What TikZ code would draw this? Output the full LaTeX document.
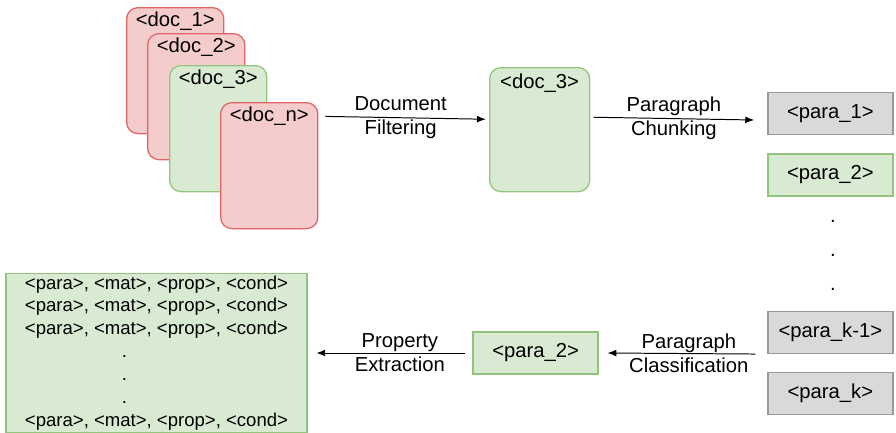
\documentclass[tikz,border=0pt]{standalone}
\usepackage{fontspec}
\setmainfont{Liberation Sans}
\usepackage{tikz}
\usetikzlibrary{arrows.meta}

\definecolor{redfill}{HTML}{F4CCCC}
\definecolor{redline}{HTML}{E06666}
\definecolor{greenfill}{HTML}{D9EAD3}
\definecolor{greenline}{HTML}{93C47D}
\definecolor{grayfill}{HTML}{D9D9D9}
\definecolor{grayline}{HTML}{999999}

\begin{document}
\begin{tikzpicture}[font=\fontsize{14.4}{17}\selectfont,
    doc/.style={draw,line width=0.9pt,rounded corners=8pt,minimum width=2.43cm,minimum height=3.15cm,anchor=north west},
    reddoc/.style={doc,fill=redfill,draw=redline},
    greendoc/.style={doc,fill=greenfill,draw=greenline},
    doclbl/.style={anchor=north,inner sep=3pt},
    para/.style={draw,line width=0.9pt,minimum width=3.125cm,minimum height=1.05cm,inner sep=0pt},
    graypara/.style={para,fill=grayfill,draw=grayline},
    greenpara/.style={para,fill=greenfill,draw=greenline},
    arr/.style={-{Latex[length=2.2mm,width=1.7mm]},line width=0.7pt},
    lbl/.style={align=center,inner sep=0pt}]
    \useasboundingbox (0,0) rectangle (22.4,-10.825);
    % Input documents, stacked
    \node[reddoc]   (doc1) at (3.15,-0.175) {};
    \node[doclbl] (doc1t) at (doc1.north) {<doc\_1>};
    \node[reddoc]   (doc2) at (3.675,-0.825) {};
    \node[doclbl] (doc2t) at (doc2.north) {<doc\_2>};
    \node[greendoc] (doc3) at (4.225,-1.625) {};
    \node[doclbl] (doc3t) at (doc3.north) {<doc\_3>};
    \node[reddoc]   (docn) at (5.5,-2.55) {};
    \node[doclbl] (docnt) at (docn.north) {<doc\_n>};
    % Kept document
    \node[greendoc,minimum width=2.5cm,minimum height=3.1cm] (kept) at (12.225,-1.675) {};
    \node[doclbl,inner sep=5pt] (keptt) at (kept.north) {<doc\_3>};
    % Paragraph column
    \node[graypara]  (par1) at (20.76,-2.84) {<para\_1>};
    \node[greenpara] (par2) at (20.76,-4.375) {<para\_2>};
    \node[align=center,inner sep=0pt,font=\fontsize{14.4}{24.2}\selectfont] (vdots) at (20.825,-6.38) {.\\.\\.};
    \node[graypara]  (park1) at (20.76,-8.31) {<para\_k-1>};
    \node[graypara]  (park) at (20.76,-9.83) {<para\_k>};
    % Selected paragraph and results
    \node[greenpara] (sel) at (13.39,-8.825) {<para\_2>};
    \node[draw=greenline,fill=greenfill,line width=0.9pt,minimum width=7.525cm,minimum height=3.98cm,
          align=center,inner sep=0pt,font=\fontsize{13.2}{16.3}\selectfont] (out) at (3.9125,-8.825)
      {<para>, <mat>, <prop>, <cond>\\<para>, <mat>, <prop>, <cond>\\<para>, <mat>, <prop>, <cond>\\
       \hspace*{-1.6cm}.\\\hspace*{-1.6cm}.\\\hspace*{-1.6cm}.\\<para>, <mat>, <prop>, <cond>};
    % Arrows
    \draw[arr] ([xshift=0.17cm,yshift=-0.36cm]docn.north east) -- ([xshift=-0.08cm,yshift=0.26cm]kept.west)
      node[lbl,pos=0.47]{Document\\Filtering};
    \draw[arr] ([xshift=0.08cm,yshift=0.31cm]kept.east) -- ([xshift=-0.33cm,yshift=-0.16cm]par1.west)
      node[lbl,midway]{Paragraph\\Chunking};
    \draw[arr] ([xshift=-0.3cm]park1.south west) -- ([xshift=0.22cm]sel.east)
      node[lbl,pos=0.45]{Paragraph\\Classification};
    \draw[arr] ([xshift=-0.18cm]sel.west) -- ([xshift=0.22cm]out.east)
      node[lbl,pos=0.44]{Property\\Extraction};
\end{tikzpicture}
\end{document}
